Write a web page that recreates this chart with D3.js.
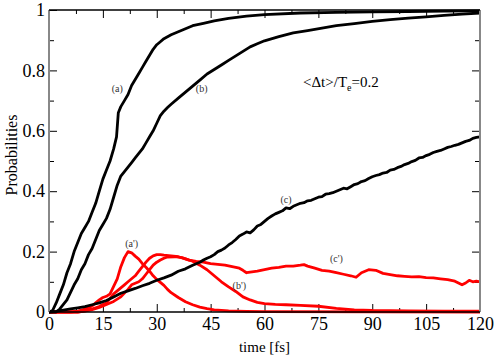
<!DOCTYPE html>
<html>
<head>
<meta charset="utf-8">
<script src="https://cdn.jsdelivr.net/npm/d3@7"></script>
<style>
body { margin: 0; background: #fff; }
</style>
</head>
<body>
<script>
// probabilities vs time: [time fs, probability]
var curveA = [[0,0],[1,0.005],[2,0.03],[3,0.06],[4,0.09],[5,0.13],[6,0.16],[7,0.2],[8,0.23],[9,0.26],[10,0.28],[11,0.3],[12,0.33],[13,0.36],[14,0.4],[15,0.44],[16,0.47],[17,0.5],[18,0.54],[18.8,0.58],[19.3,0.66],[20,0.68],[21,0.7],[22,0.72],[23,0.75],[24,0.77],[25,0.79],[26,0.81],[27,0.83],[28,0.85],[29,0.87],[30,0.885],[31,0.895],[32,0.905],[34,0.918],[36,0.928],[38,0.938],[40,0.948],[43,0.956],[46,0.964],[50,0.972],[55,0.98],[60,0.985],[70,0.99],[80,0.992],[90,0.994],[100,0.995],[110,0.996],[120,0.997]];
var curveB = [[0,0],[2,0],[3,0.01],[4,0.025],[5,0.04],[6,0.065],[7,0.09],[8,0.11],[9,0.14],[10,0.16],[11,0.19],[12,0.21],[13,0.24],[14,0.27],[15,0.29],[16,0.31],[17,0.34],[18,0.38],[19,0.42],[20,0.45],[21,0.465],[22,0.48],[23,0.495],[24,0.51],[25,0.525],[26,0.54],[27,0.56],[28,0.58],[29,0.6],[30,0.625],[31,0.65],[32,0.665],[33,0.677],[34,0.688],[36,0.708],[38,0.728],[40,0.748],[42,0.768],[44,0.788],[46,0.803],[48,0.818],[50,0.833],[52,0.848],[54,0.863],[56,0.878],[58,0.888],[60,0.898],[64,0.912],[68,0.924],[72,0.932],[76,0.94],[80,0.948],[85,0.955],[90,0.962],[95,0.968],[100,0.973],[105,0.977],[110,0.982],[115,0.986],[120,0.99]];
var curveC = [[0,0],[2,0.002],[4,0.006],[6,0.01],[8,0.014],[10,0.018],[12,0.024],[14,0.03],[16,0.038],[18,0.05],[20,0.062],[22,0.07],[24,0.078],[26,0.087],[28,0.095],[30,0.105],[32,0.113],[34,0.122],[36,0.135],[38,0.143],[40,0.155],[41,0.16],[42,0.165],[43,0.172],[44,0.178],[45,0.183],[46,0.19],[47,0.2],[48,0.205],[49,0.212],[50,0.222],[51,0.23],[52,0.24],[53,0.252],[54,0.258],[55,0.265],[56,0.262],[57,0.272],[58,0.285],[59,0.29],[60,0.3],[61,0.31],[62,0.318],[63,0.325],[64,0.33],[65,0.335],[66,0.345],[67,0.342],[68,0.35],[69,0.355],[70,0.36],[71,0.362],[72,0.368],[73,0.37],[74,0.375],[75,0.38],[76,0.382],[77,0.39],[78,0.392],[79,0.395],[80,0.4],[81,0.405],[82,0.41],[83,0.408],[84,0.415],[85,0.422],[86,0.425],[87,0.432],[88,0.435],[89,0.442],[90,0.448],[91,0.452],[92,0.455],[93,0.46],[94,0.462],[95,0.47],[96,0.472],[97,0.478],[98,0.482],[99,0.488],[100,0.492],[101,0.498],[102,0.502],[103,0.51],[104,0.512],[105,0.518],[106,0.522],[107,0.528],[108,0.532],[109,0.535],[110,0.54],[111,0.545],[112,0.548],[113,0.552],[114,0.555],[115,0.56],[116,0.565],[117,0.568],[118,0.575],[119,0.578],[120,0.58]];
var curveA2 = [[0,0],[6,0],[8,0.003],[10,0.01],[12,0.02],[13,0.03],[14,0.04],[15,0.048],[16,0.052],[17,0.06],[18,0.085],[19,0.11],[20,0.15],[21,0.18],[22,0.2],[23,0.196],[24,0.185],[25,0.175],[26,0.16],[27,0.148],[28,0.135],[29,0.12],[30,0.108],[31,0.098],[32,0.088],[33,0.075],[34,0.064],[36,0.048],[38,0.034],[40,0.024],[42,0.016],[44,0.011],[46,0.007],[50,0.004],[55,0.002],[60,0.001],[120,0]];
var curveB2 = [[0,0],[8,0],[10,0.004],[12,0.01],[14,0.018],[15,0.025],[16,0.03],[17,0.045],[18,0.06],[19,0.07],[20,0.08],[21,0.09],[22,0.1],[23,0.11],[24,0.12],[25,0.135],[26,0.15],[27,0.165],[28,0.178],[29,0.186],[30,0.19],[31,0.19],[32,0.188],[34,0.186],[36,0.183],[38,0.176],[40,0.168],[42,0.155],[44,0.14],[46,0.12],[48,0.1],[50,0.083],[52,0.068],[54,0.05],[56,0.04],[58,0.032],[60,0.028],[63,0.025],[66,0.024],[70,0.022],[75,0.019],[80,0.012],[85,0.007],[90,0.005],[100,0.004],[110,0.003],[120,0.003]];
var curveC2 = [[0,0],[8,0],[10,0.003],[12,0.008],[14,0.015],[16,0.025],[18,0.035],[20,0.05],[22,0.075],[23,0.09],[24,0.095],[25,0.1],[26,0.11],[27,0.125],[28,0.14],[29,0.155],[30,0.165],[31,0.172],[32,0.178],[33,0.182],[35,0.183],[37,0.18],[39,0.172],[41,0.168],[43,0.165],[45,0.16],[47,0.158],[49,0.155],[51,0.15],[53,0.145],[54,0.138],[55,0.13],[56,0.132],[58,0.135],[60,0.14],[62,0.145],[64,0.148],[66,0.152],[68,0.152],[70,0.155],[71,0.157],[72,0.152],[74,0.145],[76,0.138],[78,0.135],[80,0.13],[82,0.125],[84,0.12],[85.5,0.115],[87,0.13],[89,0.14],[91,0.138],[93,0.128],[95,0.124],[97,0.12],[99,0.118],[101,0.116],[103,0.117],[105,0.114],[107,0.113],[109,0.11],[111,0.107],[113,0.102],[115,0.09],[116,0.096],[117,0.105],[118,0.1],[119,0.102],[120,0.1]];

// tick values
var xTicks = [0, 15, 30, 45, 60, 75, 90, 105, 120];
var yTicks = [0, 0.2, 0.4, 0.6, 0.8, 1];
var yTickLabels = ["0", "0.2", "0.4", "0.6", "0.8", "1"];

// curve labels: [text, time, probability]
var curveLabels = [["(a)", 19, 0.73], ["(b)", 42.5, 0.73], ["(c)", 66, 0.36], ["(a')", 23, 0.215], ["(b')", 53, 0.075], ["(c')", 80, 0.165]];

var fontStack = "'Liberation Serif', 'Times New Roman', 'DejaVu Serif', serif";

var width = 498, height = 358;
var margin = {top: 10, right: 18, bottom: 46, left: 49};

var svg = d3.select("body").append("svg")
    .attr("width", width)
    .attr("height", height)
    .style("display", "block")
    .style("font-family", fontStack);

var x = d3.scaleLinear().domain([0, 120]).range([margin.left, width - margin.right]);
var y = d3.scaleLinear().domain([0, 1]).range([height - margin.bottom, margin.top]);

// minor ticks in between majors
var xMinor = d3.range(0, 121, 7.5).filter(function(d){ return d % 15 !== 0; });
var yMinor = [0.1, 0.3, 0.5, 0.7, 0.9];

function tickGroup(axis, tx, ty) {
    var g = svg.append("g").attr("transform", "translate(" + tx + "," + ty + ")").call(axis);
    g.attr("font-family", null);
    g.select(".domain").remove();
    g.selectAll(".tick line").attr("stroke", "#000").attr("stroke-width", 1);
    return g;
}

// major + minor ticks on all four sides, pointing inward
var gx = tickGroup(d3.axisBottom(x).tickValues(xTicks).tickSize(-8).tickPadding(5).tickFormat(d3.format("d")), 0, y(0));
gx.selectAll("text").attr("font-size", 18).attr("fill", "#000");
tickGroup(d3.axisBottom(x).tickValues(xMinor).tickSize(-4).tickFormat(""), 0, y(0));
tickGroup(d3.axisTop(x).tickValues(xTicks).tickSize(-8).tickFormat(""), 0, y(1));
tickGroup(d3.axisTop(x).tickValues(xMinor).tickSize(-4).tickFormat(""), 0, y(1));

var gy = tickGroup(d3.axisLeft(y).tickValues(yTicks).tickSize(-8).tickPadding(4).tickFormat(function(d, i){ return yTickLabels[i]; }), x(0), 0);
gy.selectAll("text").attr("font-size", 18).attr("fill", "#000");
tickGroup(d3.axisLeft(y).tickValues(yMinor).tickSize(-5).tickFormat(""), x(0), 0);
tickGroup(d3.axisRight(y).tickValues(yTicks).tickSize(-8).tickFormat(""), x(120), 0);
tickGroup(d3.axisRight(y).tickValues(yMinor).tickSize(-5).tickFormat(""), x(120), 0);

// curves
var line = d3.line().x(function(d){ return x(d[0]); }).y(function(d){ return y(d[1]); });
var series = [
    {data: curveA2, color: "#ff0000"},
    {data: curveB2, color: "#ff0000"},
    {data: curveC2, color: "#ff0000"},
    {data: curveA, color: "#000"},
    {data: curveB, color: "#000"},
    {data: curveC, color: "#000"}
];
series.forEach(function(s) {
    svg.append("path")
        .attr("d", line(s.data))
        .attr("fill", "none")
        .attr("stroke", s.color)
        .attr("stroke-width", 2.8)
        .attr("stroke-linejoin", "round");
});

// frame: grey sides, black top/bottom
svg.append("line").attr("x1", x(0)).attr("x2", x(0)).attr("y1", y(1)).attr("y2", y(0)).attr("stroke", "#888").attr("stroke-width", 2);
svg.append("line").attr("x1", x(120)).attr("x2", x(120)).attr("y1", y(1)).attr("y2", y(0)).attr("stroke", "#888").attr("stroke-width", 2);
svg.append("line").attr("x1", x(0)).attr("x2", x(120)).attr("y1", y(1)).attr("y2", y(1)).attr("stroke", "#000").attr("stroke-width", 1.5);
svg.append("line").attr("x1", x(0)).attr("x2", x(120)).attr("y1", y(0)).attr("y2", y(0)).attr("stroke", "#000").attr("stroke-width", 1.5);

// curve labels
svg.selectAll(".clab")
    .data(curveLabels)
    .enter().append("text")
    .attr("class", "clab")
    .attr("x", function(d){ return x(d[1]); })
    .attr("y", function(d){ return y(d[2]); })
    .attr("text-anchor", "middle")
    .attr("font-size", 10)
    .attr("fill", "#333")
    .text(function(d){ return d[0]; });

// annotation
var ann = svg.append("text").attr("x", 303).attr("y", 87).attr("font-size", 15).attr("fill", "#000");
ann.append("tspan").text("<Δt>/T");
ann.append("tspan").attr("dy", 4).attr("font-size", 10).text("e");
ann.append("tspan").attr("dy", -4).text("=0.2");

// axis titles
svg.append("text")
    .attr("x", (x(0) + x(120)) / 2)
    .attr("y", 352)
    .attr("text-anchor", "middle")
    .attr("font-size", 15)
    .text("time [fs]");

svg.append("text")
    .attr("transform", "translate(17,155) rotate(-90)")
    .attr("text-anchor", "middle")
    .attr("font-size", 16)
    .text("Probabilities");
</script>
</body>
</html>
